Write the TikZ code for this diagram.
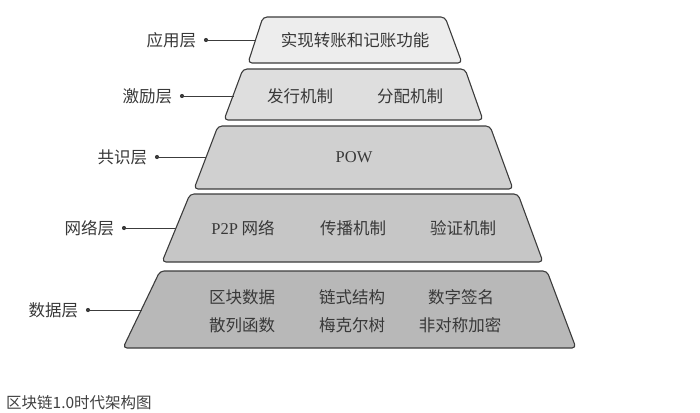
\documentclass[tikz,border=0pt]{standalone}
\usepackage{fontspec}
\setmainfont{Noto Sans CJK SC}
\newfontfamily\latinserif{Liberation Serif}
\usepackage{tikz}
\usetikzlibrary{positioning}
\definecolor{edgegray}{HTML}{3C3C3C}
\definecolor{textgray}{HTML}{383838}
\definecolor{fillone}{HTML}{EDEDED}
\definecolor{filltwo}{HTML}{DEDEDE}
\definecolor{fillthree}{HTML}{D0D0D0}
\definecolor{fillfour}{HTML}{C6C6C6}
\definecolor{fillfive}{HTML}{B8B8B8}

\begin{document}
\begin{tikzpicture}[x=1pt,y=-1pt, %one unit is one pixel of the figure
layer/.style ={draw=edgegray, line width=1.1pt, rounded corners=4pt},
item/.style ={text=textgray, inner sep=0pt, font=\fontsize{16.5}{18}\selectfont},
Dot/.style ={circle, fill=edgegray, inner sep=0pt, minimum size=4.2pt},
Lab/.style ={text=textgray, font=\fontsize{16.5}{18}\selectfont, label distance=4pt},
conn/.style ={draw=edgegray, line width=0.8pt}
]
\useasboundingbox (0,0) rectangle (700,412);
%application layer
\draw[layer, fill=fillone] (263,17) -- (445,17) -- (462,63) -- (248,63) -- cycle;
\coordinate (e1) at (255.5,40);
\node[item] (t1) at (355,40) {实现转账和记账功能};
%incentive layer
\draw[layer, fill=filltwo] (243,69) -- (465,69) -- (483,120) -- (224,120) -- cycle;
\coordinate (e2) at (233.5,96);
\node[item] (t2a) at (300,96) {发行机制};
\node[item] (t2b) at (410,96) {分配机制};
%consensus layer
\draw[layer, fill=fillthree] (218,126) -- (490,126) -- (513,189) -- (194,189) -- cycle;
\coordinate (e3) at (206,157);
\node[item] (t3) at (354,157) {\latinserif POW};
%network layer
\draw[layer, fill=fillfour] (190,194) -- (518,194) -- (543,262) -- (162,262) -- cycle;
\coordinate (e4) at (176,228);
\node[item] (t4a) at (243,228) {{\latinserif P2P} 网络};
\node[item] (t4b) at (353,228) {传播机制};
\node[item] (t4c) at (463,228) {验证机制};
%data layer
\draw[layer, fill=fillfive] (160,271) -- (547,271) -- (576,348) -- (123,348) -- cycle;
\coordinate (e5) at (141.5,310);
\node[item] (t5a) at (242,297) {区块数据};
\node[item] (t5b) at (352,297) {链式结构};
\node[item] (t5c) at (461,297) {数字签名};
\node[item] (t5d) at (242,325) {散列函数};
\node[item] (t5e) at (352,325) {梅克尔树};
\node[item] (t5f) at (460,325) {非对称加密};
%layer names
\node[Dot, label={[Lab]left:应用层}] (d1) at (206,40) {};
\node[Dot, label={[Lab]left:激励层}] (d2) at (182,96) {};
\node[Dot, label={[Lab]left:共识层}] (d3) at (157,157) {};
\node[Dot, label={[Lab]left:网络层}] (d4) at (124,228) {};
\node[Dot, label={[Lab]left:数据层}] (d5) at (88,310) {};
\draw[conn] (d1) -- (e1);
\draw[conn] (d2) -- (e2);
\draw[conn] (d3) -- (e3);
\draw[conn] (d4) -- (e4);
\draw[conn] (d5) -- (e5);
%caption
\node[anchor=west, inner sep=0pt, text=black!75, font=\fontsize{15.5}{17}\selectfont] (cap) at (6,403) {区块链1.0时代架构图};
\end{tikzpicture}
\end{document}
